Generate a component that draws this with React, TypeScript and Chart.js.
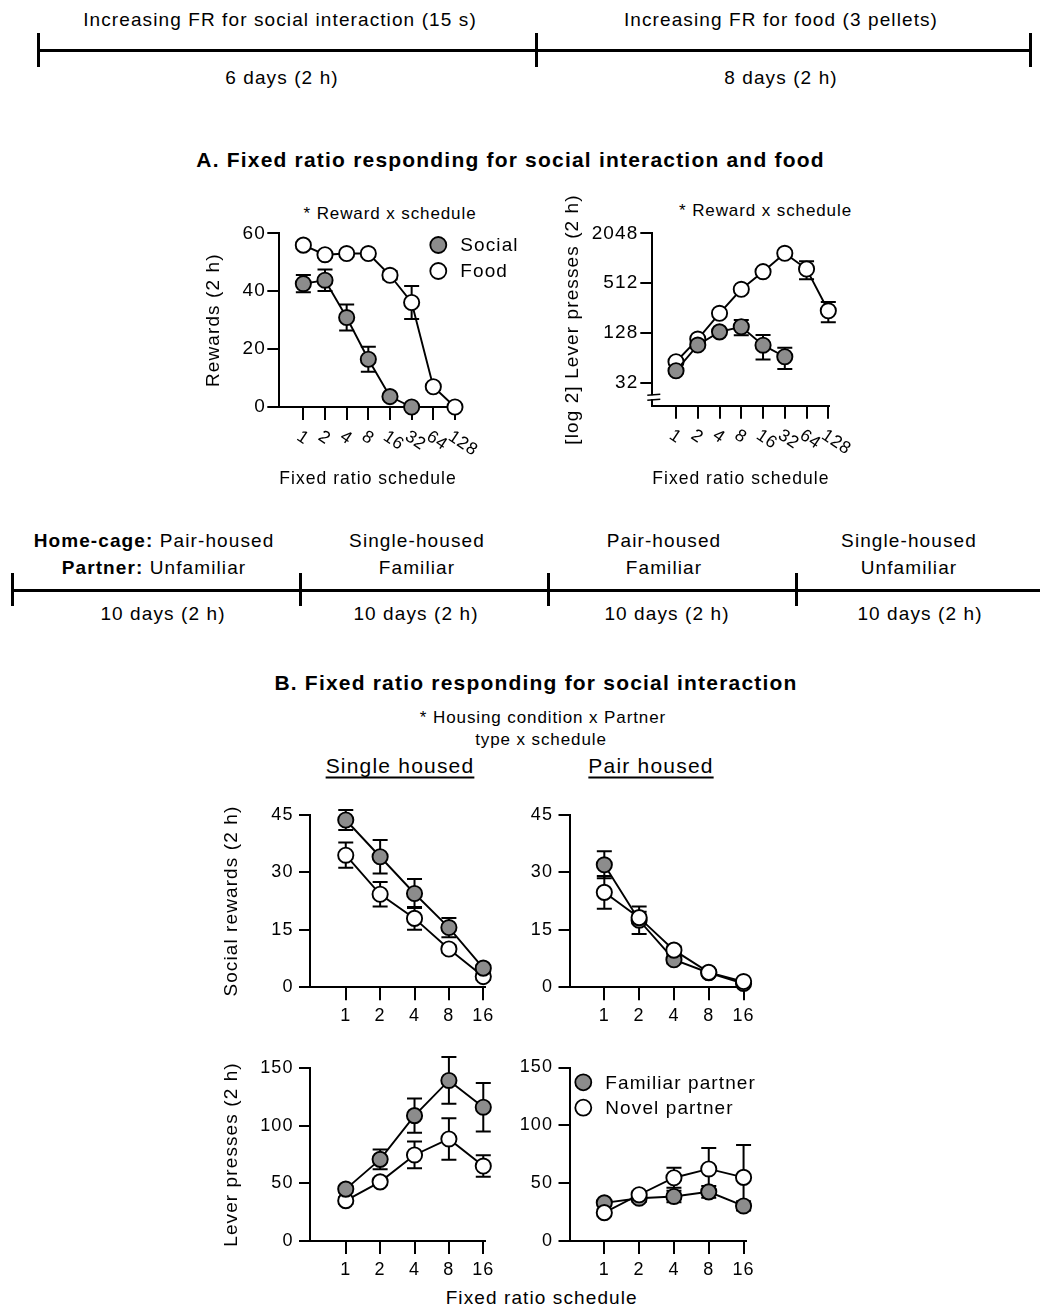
import React, { useEffect, useRef } from 'react';
import { Chart, registerables } from 'chart.js';

Chart.register(...registerables);

const FONT_FAMILY = '"Liberation Sans", Arial, Helvetica, sans-serif';
const GREY = '#8c8c8c';
const LS = 1.1; // letter spacing (px) to mimic the wide figure font

Chart.defaults.font.family = FONT_FAMILY;
Chart.defaults.color = '#000';

// ---------------- Timeline texts ----------------
const TL1_TOP = ['Increasing FR for social interaction (15 s)', 'Increasing FR for food (3 pellets)'];
const TL1_BOTTOM = ['6 days (2 h)', '8 days (2 h)'];
const TL2_ROW1: [string, string][] = [
  ['Home-cage: ', 'Pair-housed'],
  ['', 'Single-housed'],
  ['', 'Pair-housed'],
  ['', 'Single-housed'],
];
const TL2_ROW2: [string, string][] = [
  ['Partner: ', 'Unfamiliar'],
  ['', 'Familiar'],
  ['', 'Familiar'],
  ['', 'Unfamiliar'],
];
const TL2_BOTTOM = ['10 days (2 h)', '10 days (2 h)', '10 days (2 h)', '10 days (2 h)'];

// ---------------- Panel A data ----------------
const A_FR_LABELS = ['1', '2', '4', '8', '16', '32', '64', '128'];
const A_SOCIAL_REWARDS = [42.6, 43.8, 30.9, 16.5, 3.6, 0];
const A_SOCIAL_REWARDS_SEM = [3.0, 3.7, 4.5, 4.3, 0.5, 0];
const A_FOOD_REWARDS = [55.9, 52.6, 53.0, 53.0, 45.5, 36.1, 7.0, 0];
const A_FOOD_REWARDS_SEM = [1.0, 1.0, 1.0, 1.0, 1.5, 5.7, 1.0, 0];
const A_SOCIAL_PRESSES = [44.7, 91.4, 132, 152, 91, 66];
const A_SOCIAL_PRESSES_SEM = [3, 8, 10, 32, 30, 19];
const A_FOOD_PRESSES = [57.4, 108, 221, 431, 704, 1174, 758, 237];
const A_FOOD_PRESSES_SEM = [3, 5, 10, 20, 40, 80, 186, 65];
const A_REWARD_TICKS = [0, 20, 40, 60];
const A_PRESS_TICKS = [32, 128, 512, 2048];

// ---------------- Panel B data ----------------
const B_FR_LABELS = ['1', '2', '4', '8', '16'];
const B_SINGLE_FAM_REWARDS = [43.7, 34.1, 24.5, 15.6, 5.0];
const B_SINGLE_FAM_REWARDS_SEM = [2.6, 4.4, 3.8, 2.5, 0.8];
const B_SINGLE_NOV_REWARDS = [34.5, 24.3, 18.0, 10.0, 2.8];
const B_SINGLE_NOV_REWARDS_SEM = [3.3, 3.2, 3.0, 1.0, 0.8];
const B_PAIR_FAM_REWARDS = [32.0, 17.5, 7.2, 3.8, 1.0];
const B_PAIR_FAM_REWARDS_SEM = [3.5, 3.6, 1.0, 0.5, 0.3];
const B_PAIR_NOV_REWARDS = [24.8, 18.2, 9.7, 3.9, 1.5];
const B_PAIR_NOV_REWARDS_SEM = [4.3, 1.5, 1.0, 0.5, 0.3];
const B_SINGLE_FAM_PRESSES = [45, 70.8, 108.7, 139.2, 116];
const B_SINGLE_FAM_PRESSES_SEM = [3, 8.5, 14.8, 20.3, 21];
const B_SINGLE_NOV_PRESSES = [35, 51.3, 74.6, 88.5, 65];
const B_SINGLE_NOV_PRESSES_SEM = [3, 3, 11.6, 18, 9.4];
const B_PAIR_FAM_PRESSES = [33, 37, 38.5, 42.5, 30.3];
const B_PAIR_FAM_PRESSES_SEM = [2, 3, 5, 5, 4];
const B_PAIR_NOV_PRESSES = [24.5, 40, 54.7, 62.3, 55];
const B_PAIR_NOV_PRESSES_SEM = [3, 3, 8.6, 18, 28];
const B_REWARD_TICKS = [0, 15, 30, 45];
const B_PRESS_TICKS = [0, 50, 100, 150];

// ---------------- Chart spec ----------------
type Series = { label: string; values: number[]; sem: number[]; fill: string; order: number };
type Spec = {
  box: { x: number; y: number; w: number; h: number };
  area: { left: number; top: number; right: number; bottom: number };
  xLabels: string[];
  xMin: number;
  xMax: number;
  rotatedX?: boolean;
  yType: 'linear' | 'logarithmic';
  yMin: number;
  yMax: number;
  yTicks: number[];
  yTickLen: number;
  yTickPad: number;
  yTitle?: string;
  yTitleX?: number;
  xTitle?: string;
  xTitleY?: number;
  series: Series[];
  legend?: { x: number; y: number; gap: number };
  axisBreak?: boolean;
  tickFont: number;
};

const TITLE_SIZE = 19;

function buildConfig(spec: Spec): any {
  const { box, area } = spec;
  const padTop = area.top - box.y;
  const padRight = box.x + box.w - area.right;
  const yWidth = area.left - box.x;
  const xHeight = box.y + box.h - area.bottom;
  const yTitlePad = spec.yTitleX !== undefined ? spec.yTitleX - box.x - TITLE_SIZE * 0.6 : 0;
  const xTitlePad = spec.xTitleY !== undefined ? box.h - (spec.xTitleY - box.y) - TITLE_SIZE * 0.6 : 0;

  const spacingPlugin = {
    id: 'spacing',
    beforeDraw(chart: any) {
      chart.ctx.letterSpacing = LS + 'px';
    },
  };

  const errorBars = {
    id: 'errorBars',
    beforeDatasetsDraw(chart: any) {
      const ctx = chart.ctx;
      const xs = chart.scales.x;
      const ys = chart.scales.y;
      ctx.save();
      ctx.strokeStyle = '#000';
      ctx.lineWidth = 2;
      chart.data.datasets.forEach((ds: any) => {
        const sem: number[] = ds.sem || [];
        ds.data.forEach((p: any, i: number) => {
          const e = sem[i];
          if (!e) return;
          const x = xs.getPixelForValue(p.x);
          const hi = ys.getPixelForValue(p.y + e);
          const lo = ys.getPixelForValue(Math.max(p.y - e, spec.yType === 'logarithmic' ? 1 : 0));
          const cap = 7.5;
          ctx.beginPath();
          ctx.moveTo(x, hi);
          ctx.lineTo(x, lo);
          ctx.moveTo(x - cap, hi);
          ctx.lineTo(x + cap, hi);
          ctx.moveTo(x - cap, lo);
          ctx.lineTo(x + cap, lo);
          ctx.stroke();
        });
      });
      ctx.restore();
    },
  };

  const extras = {
    id: 'extras',
    afterDraw(chart: any) {
      const ctx = chart.ctx;
      const ca = chart.chartArea;
      if (spec.rotatedX) {
        const xs = chart.scales.x;
        ctx.save();
        ctx.font = `${spec.tickFont - 1.5}px ${FONT_FAMILY}`;
        ctx.letterSpacing = '0.6px';
        ctx.fillStyle = '#000';
        ctx.textAlign = 'left';
        ctx.textBaseline = 'middle';
        spec.xLabels.forEach((lab, i) => {
          const x = xs.getPixelForValue(i);
          ctx.save();
          ctx.translate(x - 5, ca.bottom + 28);
          ctx.rotate((34 * Math.PI) / 180);
          ctx.fillText(lab, 0, 0);
          ctx.restore();
        });
        ctx.restore();
      }
      if (spec.axisBreak) {
        const ax = ca.left;
        const b = ca.bottom;
        ctx.save();
        ctx.fillStyle = '#fff';
        ctx.fillRect(ax - 2, b - 10.5, 4, 4);
        ctx.strokeStyle = '#000';
        ctx.lineWidth = 1.6;
        ctx.beginPath();
        ctx.moveTo(ax - 5, b - 10.5);
        ctx.lineTo(ax + 8, b - 11.5);
        ctx.moveTo(ax - 5, b - 5.5);
        ctx.lineTo(ax + 8, b - 6.5);
        ctx.stroke();
        ctx.restore();
      }
      if (spec.legend) {
        const lx = spec.legend.x - box.x;
        const ly = spec.legend.y - box.y;
        ctx.save();
        ctx.font = `${TITLE_SIZE}px ${FONT_FAMILY}`;
        ctx.textAlign = 'left';
        ctx.textBaseline = 'middle';
        spec.series.forEach((s, k) => {
          const cy = ly + k * spec.legend!.gap;
          ctx.beginPath();
          ctx.arc(lx, cy, 8, 0, Math.PI * 2);
          ctx.fillStyle = s.fill;
          ctx.fill();
          ctx.lineWidth = 1.8;
          ctx.strokeStyle = '#000';
          ctx.stroke();
          ctx.fillStyle = '#000';
          ctx.fillText(s.label, lx + 22, cy + 1);
        });
        ctx.restore();
      }
    },
  };

  const gridCommon = { display: true, drawOnChartArea: false, drawTicks: true, color: '#000', lineWidth: 2 };

  return {
    type: 'line',
    data: {
      datasets: spec.series.map((s) => ({
        label: s.label,
        data: s.values.map((v, i) => ({ x: i, y: v })),
        sem: s.sem,
        order: s.order,
        borderColor: '#000',
        borderWidth: 1.9,
        backgroundColor: s.fill,
        pointRadius: 7.6,
        pointHoverRadius: 7.6,
        pointBorderWidth: 1.9,
        pointBackgroundColor: s.fill,
        pointBorderColor: '#000',
        tension: 0,
        fill: false,
        clip: false,
      })),
    },
    options: {
      animation: false,
      responsive: false,
      maintainAspectRatio: false,
      devicePixelRatio: 1,
      events: [],
      layout: { padding: { left: 0, top: padTop, right: padRight, bottom: 0 } },
      plugins: { legend: { display: false }, tooltip: { enabled: false }, title: { display: false } },
      scales: {
        x: {
          type: 'linear',
          min: spec.xMin,
          max: spec.xMax,
          afterBuildTicks: (s: any) => {
            s.ticks = spec.xLabels.map((_, i) => ({ value: i }));
          },
          afterFit: (s: any) => {
            s.height = xHeight;
          },
          grid: { ...gridCommon, tickLength: 13 },
          border: { display: true, color: '#000', width: 2 },
          ticks: {
            display: !spec.rotatedX,
            autoSkip: false,
            maxRotation: 0,
            minRotation: 0,
            padding: 5,
            color: '#000',
            font: { size: spec.tickFont, family: FONT_FAMILY },
            callback: (v: number) => spec.xLabels[Math.round(v)] ?? '',
          },
          title: {
            display: !!spec.xTitle,
            text: spec.xTitle || '',
            color: '#000',
            font: { size: TITLE_SIZE, family: FONT_FAMILY },
            padding: { top: 0, bottom: xTitlePad },
          },
        },
        y: {
          type: spec.yType,
          min: spec.yMin,
          max: spec.yMax,
          afterBuildTicks: (s: any) => {
            s.ticks = spec.yTicks.map((v) => ({ value: v }));
          },
          afterFit: (s: any) => {
            s.width = yWidth;
          },
          grid: { ...gridCommon, tickLength: spec.yTickLen },
          border: { display: true, color: '#000', width: 2 },
          ticks: {
            padding: spec.yTickPad,
            color: '#000',
            font: { size: spec.tickFont, family: FONT_FAMILY },
            callback: (v: number) => String(v),
          },
          title: {
            display: !!spec.yTitle,
            text: spec.yTitle || '',
            color: '#000',
            font: { size: TITLE_SIZE, family: FONT_FAMILY },
            padding: { top: yTitlePad, bottom: 0 },
          },
        },
      },
    },
    plugins: [spacingPlugin, errorBars, extras],
  };
}

function PanelChart({ spec }: { spec: Spec }) {
  const ref = useRef<HTMLCanvasElement>(null);
  useEffect(() => {
    const chart = new Chart(ref.current as HTMLCanvasElement, buildConfig(spec));
    return () => chart.destroy();
  }, []);
  return (
    <canvas
      ref={ref}
      width={spec.box.w}
      height={spec.box.h}
      style={{ position: 'absolute', left: spec.box.x, top: spec.box.y, width: spec.box.w, height: spec.box.h }}
    />
  );
}

// ---------------- Specs ----------------
const SPEC_A_REWARDS: Spec = {
  box: { x: 190, y: 195, w: 340, h: 300 },
  area: { left: 279.3, top: 233.3, right: 456.7, bottom: 407 },
  xLabels: A_FR_LABELS,
  xMin: -1.11,
  xMax: 7.08,
  rotatedX: true,
  yType: 'linear',
  yMin: 0,
  yMax: 60,
  yTicks: A_REWARD_TICKS,
  yTickLen: 12,
  yTickPad: 1.5,
  yTitle: 'Rewards (2 h)',
  yTitleX: 213.3,
  xTitle: 'Fixed ratio schedule',
  xTitleY: 478.3,
  tickFont: 19,
  series: [
    { label: 'Social', values: A_SOCIAL_REWARDS, sem: A_SOCIAL_REWARDS_SEM, fill: GREY, order: 0 },
    { label: 'Food', values: A_FOOD_REWARDS, sem: A_FOOD_REWARDS_SEM, fill: '#fff', order: 1 },
  ],
  legend: { x: 438.3, y: 245, gap: 26 },
};

const SPEC_A_PRESSES: Spec = {
  box: { x: 560, y: 195, w: 320, h: 300 },
  area: { left: 652.3, top: 233.3, right: 829.4, bottom: 405.7 },
  xLabels: A_FR_LABELS,
  xMin: -1.09,
  xMax: 7.05,
  rotatedX: true,
  yType: 'logarithmic',
  yMin: 16.9,
  yMax: 2048,
  yTicks: A_PRESS_TICKS,
  yTickLen: 12,
  yTickPad: 2,
  yTitle: '[log 2] Lever presses (2 h)',
  yTitleX: 572.5,
  xTitle: 'Fixed ratio schedule',
  xTitleY: 478.3,
  tickFont: 19,
  axisBreak: true,
  series: [
    { label: 'Social', values: A_SOCIAL_PRESSES, sem: A_SOCIAL_PRESSES_SEM, fill: GREY, order: 0 },
    { label: 'Food', values: A_FOOD_PRESSES, sem: A_FOOD_PRESSES_SEM, fill: '#fff', order: 1 },
  ],
};

const SPEC_B_SINGLE_REWARDS: Spec = {
  box: { x: 210, y: 795, w: 290, h: 245 },
  area: { left: 310, top: 815, right: 485, bottom: 987.3 },
  xLabels: B_FR_LABELS,
  xMin: -1.04,
  xMax: 4.05,
  yType: 'linear',
  yMin: 0,
  yMax: 45,
  yTicks: B_REWARD_TICKS,
  yTickLen: 11,
  yTickPad: 5.5,
  yTitle: 'Social rewards (2 h)',
  yTitleX: 231.7,
  tickFont: 18,
  series: [
    { label: 'Familiar partner', values: B_SINGLE_FAM_REWARDS, sem: B_SINGLE_FAM_REWARDS_SEM, fill: GREY, order: 0 },
    { label: 'Novel partner', values: B_SINGLE_NOV_REWARDS, sem: B_SINGLE_NOV_REWARDS_SEM, fill: '#fff', order: 1 },
  ],
};

const SPEC_B_PAIR_REWARDS: Spec = {
  box: { x: 500, y: 795, w: 280, h: 245 },
  area: { left: 569.5, top: 815, right: 746, bottom: 987.3 },
  xLabels: B_FR_LABELS,
  xMin: -1.0,
  xMax: 4.07,
  yType: 'linear',
  yMin: 0,
  yMax: 45,
  yTicks: B_REWARD_TICKS,
  yTickLen: 11,
  yTickPad: 5.5,
  tickFont: 18,
  series: [
    { label: 'Familiar partner', values: B_PAIR_FAM_REWARDS, sem: B_PAIR_FAM_REWARDS_SEM, fill: GREY, order: 1 },
    { label: 'Novel partner', values: B_PAIR_NOV_REWARDS, sem: B_PAIR_NOV_REWARDS_SEM, fill: '#fff', order: 0 },
  ],
};

const SPEC_B_SINGLE_PRESSES: Spec = {
  box: { x: 210, y: 1040, w: 290, h: 240 },
  area: { left: 310, top: 1068, right: 485, bottom: 1241 },
  xLabels: B_FR_LABELS,
  xMin: -1.04,
  xMax: 4.05,
  yType: 'linear',
  yMin: 0,
  yMax: 150,
  yTicks: B_PRESS_TICKS,
  yTickLen: 11,
  yTickPad: 5.5,
  yTitle: 'Lever presses (2 h)',
  yTitleX: 232,
  tickFont: 18,
  series: [
    { label: 'Familiar partner', values: B_SINGLE_FAM_PRESSES, sem: B_SINGLE_FAM_PRESSES_SEM, fill: GREY, order: 0 },
    { label: 'Novel partner', values: B_SINGLE_NOV_PRESSES, sem: B_SINGLE_NOV_PRESSES_SEM, fill: '#fff', order: 1 },
  ],
};

const SPEC_B_PAIR_PRESSES: Spec = {
  box: { x: 500, y: 1040, w: 280, h: 240 },
  area: { left: 569.5, top: 1067.5, right: 746, bottom: 1241 },
  xLabels: B_FR_LABELS,
  xMin: -1.0,
  xMax: 4.07,
  yType: 'linear',
  yMin: 0,
  yMax: 150,
  yTicks: B_PRESS_TICKS,
  yTickLen: 11,
  yTickPad: 5.5,
  tickFont: 18,
  series: [
    { label: 'Familiar partner', values: B_PAIR_FAM_PRESSES, sem: B_PAIR_FAM_PRESSES_SEM, fill: GREY, order: 1 },
    { label: 'Novel partner', values: B_PAIR_NOV_PRESSES, sem: B_PAIR_NOV_PRESSES_SEM, fill: '#fff', order: 0 },
  ],
  legend: { x: 583.3, y: 1082.3, gap: 25.4 },
};

// ---------------- HTML helpers ----------------
function T(props: {
  x: number;
  y: number;
  size?: number;
  bold?: boolean;
  ls?: number;
  underline?: boolean;
  children: React.ReactNode;
}) {
  const { x, y, size = 19, bold = false, ls = LS, underline = false, children } = props;
  return (
    <div
      style={{
        position: 'absolute',
        left: x,
        top: y,
        transform: 'translate(-50%, -50%)',
        whiteSpace: 'nowrap',
        fontFamily: FONT_FAMILY,
        fontSize: size,
        fontWeight: bold ? 700 : 400,
        letterSpacing: ls,
        lineHeight: 1,
        color: '#000',
        textDecoration: underline ? 'underline' : 'none',
        textUnderlineOffset: 4,
        textDecorationThickness: 1.5,
      }}
    >
      {children}
    </div>
  );
}

function HLine({ x1, x2, y, w = 3 }: { x1: number; x2: number; y: number; w?: number }) {
  return <div style={{ position: 'absolute', left: x1, top: y - w / 2, width: x2 - x1, height: w, background: '#000' }} />;
}
function VLine({ x, y1, y2, w = 3 }: { x: number; y1: number; y2: number; w?: number }) {
  return <div style={{ position: 'absolute', left: x - w / 2, top: y1, width: w, height: y2 - y1, background: '#000' }} />;
}

const TL1_X = [280, 781];
const TL1_BOTTOM_X = [282, 781];
const TL1_TICKS = [38.5, 536, 1030];
const TL2_X = [154, 417, 664, 909];
const TL2_BOTTOM_X = [163, 416, 667, 920];
const TL2_TICKS = [12, 300, 548, 796];

export default function App() {
  return (
    <div style={{ position: 'absolute', left: 0, top: 0, width: 1040, height: 1308, background: '#fff', overflow: 'hidden' }}>
      {/* Timeline 1 */}
      {TL1_TOP.map((t, i) => (
        <T key={'t1a' + i} x={TL1_X[i]} y={19}>{t}</T>
      ))}
      <HLine x1={TL1_TICKS[0]} x2={TL1_TICKS[2]} y={50} />
      {TL1_TICKS.map((x, i) => (
        <VLine key={'t1t' + i} x={x} y1={33} y2={67} />
      ))}
      {TL1_BOTTOM.map((t, i) => (
        <T key={'t1b' + i} x={TL1_BOTTOM_X[i]} y={77}>{t}</T>
      ))}

      {/* Panel A */}
      <T x={510.5} y={159} size={21} bold ls={1.2}>A. Fixed ratio responding for social interaction and food</T>
      <T x={390} y={213} size={17} ls={0.9}>* Reward x schedule</T>
      <T x={765.5} y={210} size={17} ls={0.9}>* Reward x schedule</T>
      <PanelChart spec={SPEC_A_REWARDS} />
      <PanelChart spec={SPEC_A_PRESSES} />

      {/* Timeline 2 */}
      {TL2_ROW1.map((t, i) => (
        <T key={'t2a' + i} x={TL2_X[i]} y={540}>
          {t[0] ? <b>{t[0]}</b> : null}
          {t[1]}
        </T>
      ))}
      {TL2_ROW2.map((t, i) => (
        <T key={'t2b' + i} x={TL2_X[i]} y={566.5}>
          {t[0] ? <b>{t[0]}</b> : null}
          {t[1]}
        </T>
      ))}
      <HLine x1={TL2_TICKS[0]} x2={1040} y={590} />
      {TL2_TICKS.map((x, i) => (
        <VLine key={'t2t' + i} x={x} y1={573} y2={606} />
      ))}
      {TL2_BOTTOM.map((t, i) => (
        <T key={'t2c' + i} x={TL2_BOTTOM_X[i]} y={613}>{t}</T>
      ))}

      {/* Panel B */}
      <T x={536} y={682} size={21} bold ls={1.2}>B. Fixed ratio responding for social interaction</T>
      <T x={543} y={716.5} size={17} ls={0.9}>* Housing condition x Partner</T>
      <T x={541} y={738.5} size={17} ls={0.9}>type x schedule</T>
      <T x={400} y={765} size={21} ls={1.2} underline>Single housed</T>
      <T x={651} y={765} size={21} ls={1.2} underline>Pair housed</T>
      <PanelChart spec={SPEC_B_SINGLE_REWARDS} />
      <PanelChart spec={SPEC_B_PAIR_REWARDS} />
      <PanelChart spec={SPEC_B_SINGLE_PRESSES} />
      <PanelChart spec={SPEC_B_PAIR_PRESSES} />
      <T x={541.7} y={1296.5}>Fixed ratio schedule</T>
    </div>
  );
}
